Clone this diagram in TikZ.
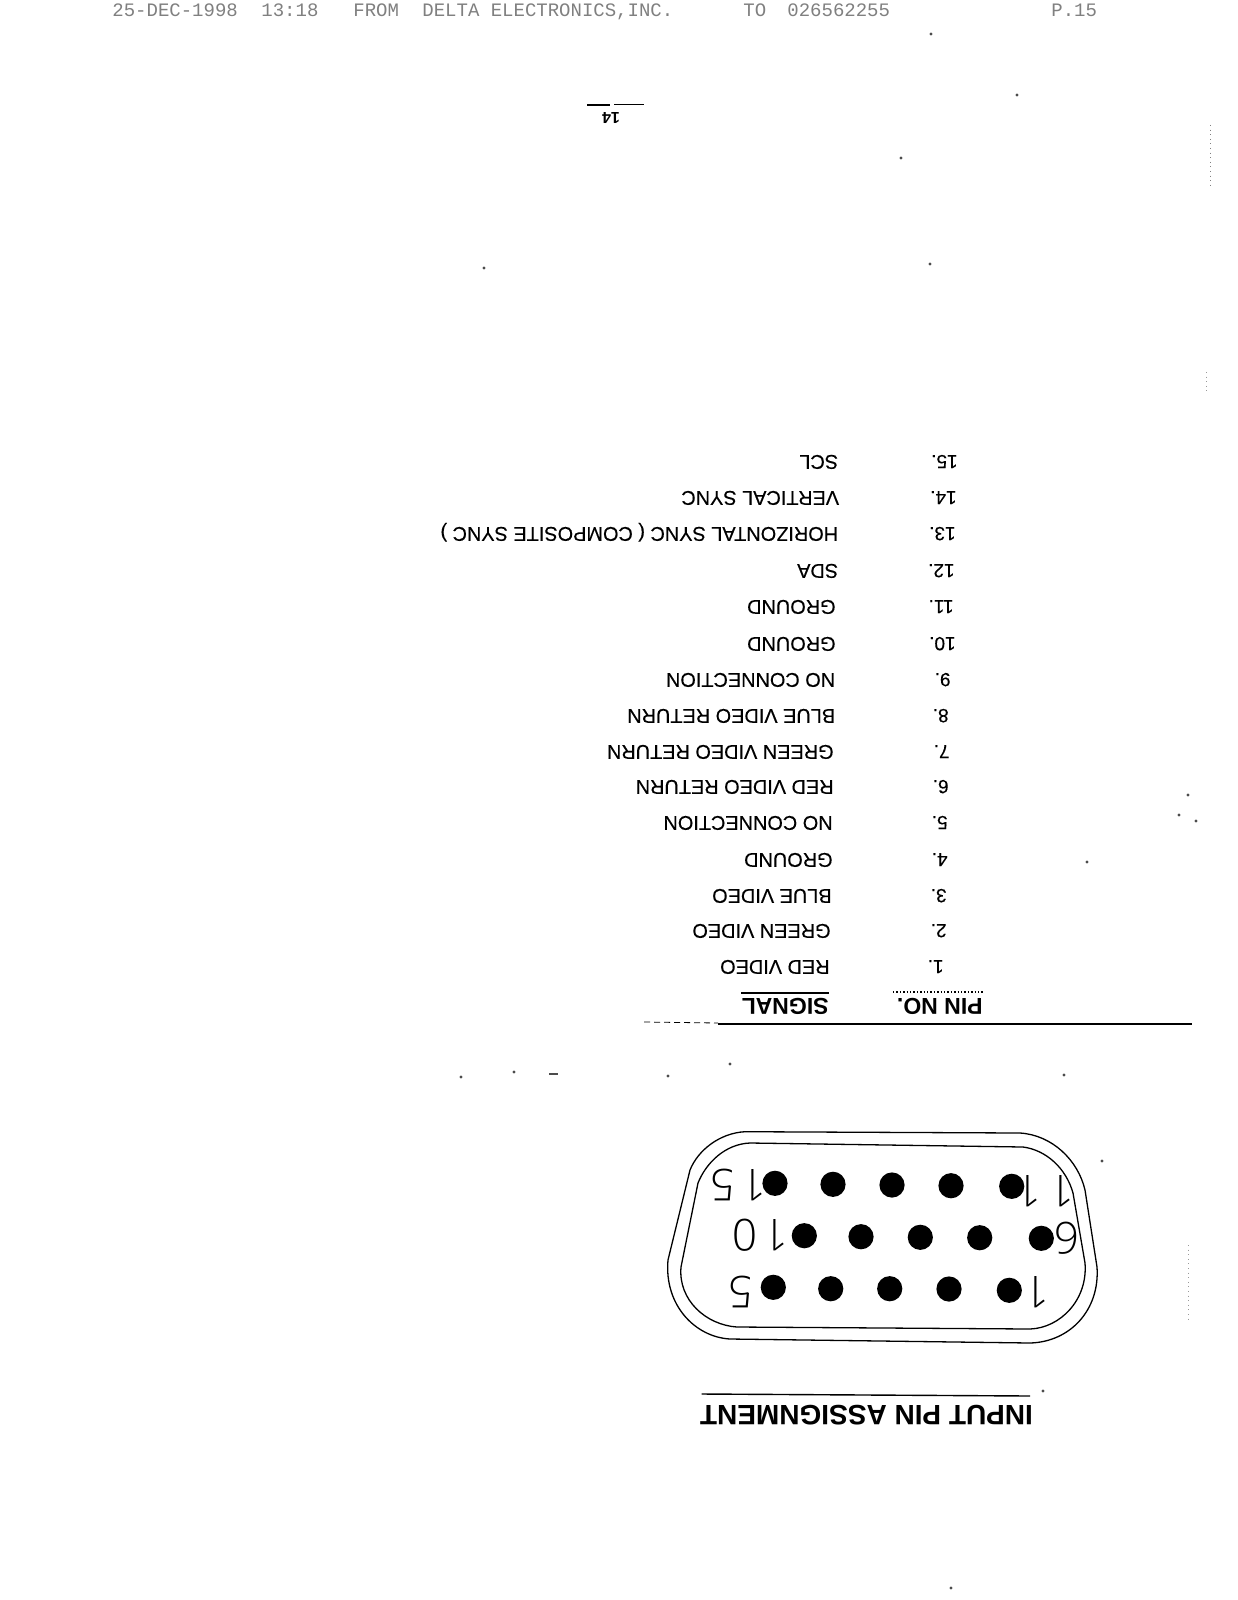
\documentclass[tikz,border=0pt]{standalone}
\usepackage{fontspec}
\setmainfont{Liberation Sans}
\setmonofont{Liberation Mono}
\newfontfamily\thinfont{Open Sans Light}
\newfontfamily\heavyfont[FakeBold=0.25]{Liberation Sans}
\tikzset{
  rowtext/.style={rotate=180,anchor=west,inner sep=0pt,font=\fontsize{9.95}{10}\heavyfont,text height=6.9pt,text depth=0pt},
  numtext/.style={rotate=180,anchor=west,inner sep=0pt,font=\fontsize{9.5}{10}\heavyfont,text height=6.9pt,text depth=0pt},
  headtext/.style={rotate=180,anchor=west,inner sep=0pt,font=\fontsize{11.5}{11.5}\selectfont\bfseries,text height=8.2pt,text depth=0pt},
  faxtext/.style={anchor=west,inner sep=0pt,text=black!50,font=\fontsize{9.5}{9.5}\selectfont\ttfamily,text height=6pt,text depth=0pt},
  pinlabel/.style={rotate=180,inner sep=0pt,font=\fontsize{22}{22}\thinfont,text height=15pt,text depth=0pt},
  shell/.style={draw=black,line width=0.65pt},
  rulel/.style={draw=black,line width=0.7pt},
  speck/.style={fill=black!70,draw=none}
}
\begin{document}
\begin{tikzpicture}[x=0.5pt,y=-0.5pt]
\useasboundingbox[fill=white] (0,0) rectangle (1237,1600);
% fax header
\node[faxtext] (f1) at (112,11) {25-DEC-1998};
\node[faxtext] (f2) at (261,11) {13:18};
\node[faxtext] (f3) at (353,11) {FROM};
\node[faxtext] (f4) at (422,11) {DELTA ELECTRONICS,INC.};
\node[faxtext] (f5) at (743,11) {TO};
\node[faxtext] (f6) at (787,11) {026562255};
\node[faxtext] (f7) at (1051,11) {P.15};
% page number
\node[rotate=180,inner sep=0pt,font=\fontsize{8}{8}\selectfont\bfseries] (pg) at (611,118) {14};
\draw[rulel] (587,105) -- (610,105) (614,104.5) -- (644,104.5);
% table rows
\foreach \n/\sx/\px/\yy/\lab in {
 15/838.5/958/462/{SCL},
 14/839.5/957/498/{VERTICAL SYNC},
 13/838.5/956/534/{HORIZONTAL SYNC ( COMPOSITE SYNC )},
 12/838.5/955/571/{SDA},
 11/836/954/607/{GROUND},
 10/836/956/644/{GROUND},
 9/835.5/951/680/{NO CONNECTION},
 8/835.5/949/716/{BLUE VIDEO RETURN},
 7/834/950/752/{GREEN VIDEO RETURN},
 6/834/949/787/{RED VIDEO RETURN},
 5/833/948/823/{NO CONNECTION},
 4/833/948/860/{GROUND},
 3/832/947/896/{BLUE VIDEO},
 2/831/947/931/{GREEN VIDEO},
 1/830/944/967/{RED VIDEO}}{
  \node[rowtext] (sig\n) at (\sx,\yy) {\lab};
  \node[numtext] (num\n) at (\px,\yy) {\n.};
}
% headers
\node[headtext] (hsig) at (829,1007) {SIGNAL};
\node[headtext] (hpin) at (983,1007) {PIN NO.};
\draw[rulel] (741,993) -- (829,993);
\draw[rulel,densely dotted] (893,992) -- (983,992);
\draw[rulel] (718,1024) -- (1192,1024);
\draw[rulel,densely dashed,line width=0.4pt] (644,1022) -- (718,1023);
% connector shell
\draw[shell] (745,1131.7) -- (1020,1133)
  .. controls (1052,1135) and (1078,1160) .. (1085,1190)
  -- (1097,1267)
  .. controls (1100,1310) and (1070,1342) .. (1030,1343)
  -- (730,1339)
  .. controls (695,1337) and (664,1305) .. (668,1260)
  -- (690,1170)
  .. controls (698,1150) and (720,1133) .. (745,1131.7) -- cycle;
\draw[shell] (750,1143) -- (1023,1147)
  .. controls (1046,1150) and (1066,1168) .. (1073,1193)
  -- (1085,1263)
  .. controls (1088,1300) and (1060,1328) .. (1030,1329)
  -- (737,1327)
  .. controls (706,1325) and (678,1300) .. (681,1267)
  -- (698,1183)
  .. controls (706,1163) and (725,1144) .. (750,1143) -- cycle;
% pins
\foreach \x/\y in {775/1183.3,833/1184.3,892/1185,951/1185.7,1011.7/1186.3,
  804.3/1235.7,861/1236.7,920.3/1237.3,979.7/1237.7,1041.3/1238.3,
  773.3/1287.3,830.7/1288.7,889.7/1288.7,949/1289,1009.3/1290.3}{
  \fill[black] (\x,\y) circle[radius=12.6];
}
% pin labels
\node[pinlabel] (l15) at (738,1184) {1\kern3pt 5};
\node[pinlabel] (l10) at (760.7,1234) {1\kern3pt 0};
\node[pinlabel] (l5) at (740.7,1291.7) {5};
\node[pinlabel] (l11) at (1045,1190) {1\kern4pt 1};
\node[pinlabel] (l6) at (1067,1237) {6};
\node[pinlabel] (l1) at (1036.7,1291.7) {1};
% title
\node[rotate=180,inner sep=0pt,font=\fontsize{14}{14}\selectfont\bfseries,text height=10pt,text depth=0pt] (title) at (866.5,1415) {INPUT PIN ASSIGNMENT};
\draw[rulel] (701.7,1394) -- (1030,1396);
% scan specks
\foreach \x/\y in {931/34,1017/95,901/158,484/268,930/264,1188/795,1179/815,1196/821,1087/862,1064/1075,1102/1161,461/1077,514/1072,668/1076,730/1064,951/1588,1043/1391}{
  \fill[speck] (\x,\y) circle[radius=1.6];
}
\draw[draw=black!50,line width=0.3pt,dotted] (1210,125) -- (1210,185);
\draw[draw=black!40,line width=0.3pt,dotted] (1206,372) -- (1206,394);
\draw[draw=black!40,line width=0.3pt,dotted] (1188,1245) -- (1188,1320);
\draw[draw=black!70,line width=0.6pt] (549,1074) -- (558,1074);
\end{tikzpicture}
\end{document}
